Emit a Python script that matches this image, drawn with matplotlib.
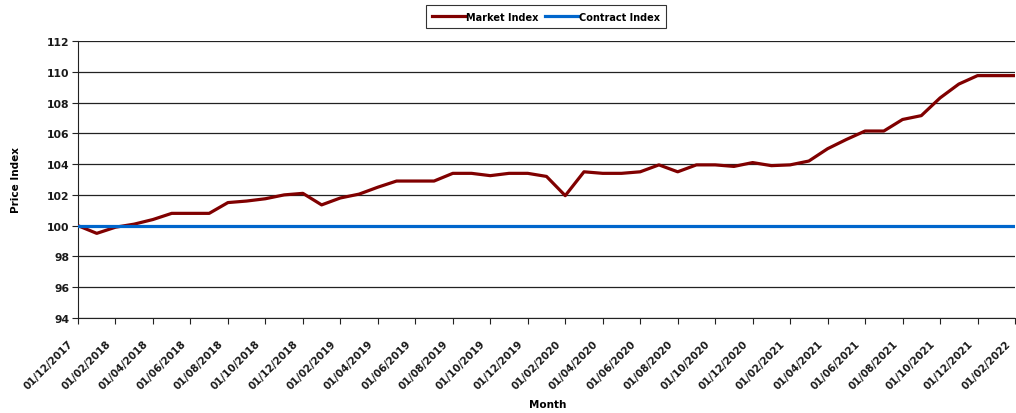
import matplotlib.pyplot as plt
import matplotlib.transforms as mtransforms
import numpy as np
import pandas as pd

months = pd.date_range('2017-12-01', '2022-02-01', freq='MS').strftime('%d/%m/%Y').tolist()
market = [100.0, 99.5, 99.9, 100.1, 100.4, 100.8, 100.8, 100.8, 101.5, 101.6,
          101.75, 102.0, 102.1, 101.35, 101.8, 102.05, 102.5, 102.9, 102.9, 102.9,
          103.4, 103.4, 103.25, 103.4, 103.4, 103.2, 101.95, 103.5, 103.4, 103.4,
          103.5, 103.95, 103.5, 103.95, 103.95, 103.85, 104.1, 103.9, 103.95, 104.2,
          105.0, 105.6, 106.15, 106.15, 106.9, 107.15, 108.3, 109.2, 109.75, 109.75,
          109.75]
contract = [100.0] * len(months)

plt.rcParams['font.family'] = 'DejaVu Sans'

fig = plt.figure(figsize=(10.16, 4.14), dpi=100)
ax = fig.add_axes([78 / 1016, 1 - 319 / 414, 937 / 1016, 277 / 414])

x = np.arange(len(months))
ax.plot(x, market, color='#800000', lw=2.3, label='Market Index', zorder=3)
ax.plot(x, contract, color='#0066CC', lw=2.3, label='Contract Index', zorder=3)

ax.set_xlim(0, len(months) - 1)
ax.set_ylim(94, 112)
ax.set_yticks(np.arange(94, 113, 2))
ax.set_xticks(x[::2])
ax.set_xticklabels([])

# rotated month labels, offset a little left and down from each tick
shift = mtransforms.ScaledTranslation(-10 / 100, -20 / 100, fig.dpi_scale_trans)
for xi, lab in zip(x[::2], months[::2]):
    ax.text(xi, 0, lab, transform=ax.get_xaxis_transform() + shift,
            rotation=45, ha='right', va='top', rotation_mode='anchor',
            fontsize=7.4, fontweight='bold', color='#1a1a1a', clip_on=False)

for lbl in ax.get_yticklabels():
    lbl.set_fontsize(7.8)
    lbl.set_fontweight('bold')
    lbl.set_color('#1a1a1a')

ax.grid(axis='y', color='#222222', lw=0.9)
ax.set_axisbelow(True)
for s in ['top', 'right']:
    ax.spines[s].set_visible(False)
ax.spines['left'].set_color('#222222')
ax.spines['bottom'].set_color('#222222')
ax.tick_params(axis='x', length=4, color='#222222')
ax.tick_params(axis='y', length=4, pad=2, color='#222222')

ax.set_ylabel('Price Index', fontsize=7.5, fontweight='bold')
ax.yaxis.set_label_coords(-(78 - 21) / 937, 0.5)
ax.set_xlabel('Month', fontsize=7.5, fontweight='bold')
ax.xaxis.set_label_coords((548 - 78) / 937, -(400 - 319) / 277)

leg = fig.legend(loc='upper center', bbox_to_anchor=(546 / 1016, 1 - 1 / 414), ncol=2,
                 frameon=True, fancybox=False, handlelength=3.4,
                 columnspacing=0.6, handletextpad=0.1, borderpad=0.7,
                 prop={'weight': 'bold', 'size': 7.0})
leg.get_frame().set_edgecolor('black')
leg.get_frame().set_linewidth(0.8)

fig.savefig('out.png', dpi=100)
